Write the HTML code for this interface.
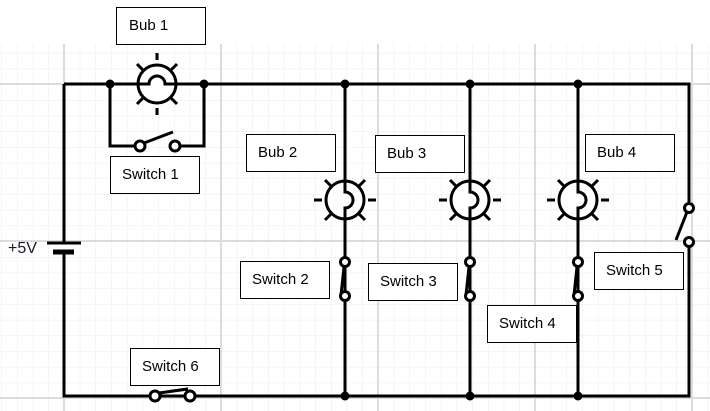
<!DOCTYPE html>
<html><head><meta charset="utf-8"><style>
html,body{margin:0;padding:0;background:#fff;}
svg{display:block;}
text{font-family:"Liberation Sans",sans-serif;font-size:15px;fill:#000;}
</style></head><body>
<svg width="710" height="411" viewBox="0 0 710 411" xmlns="http://www.w3.org/2000/svg">
<defs>
<pattern id="minor" x="1.3" y="5.8" width="15.7" height="15.7" patternUnits="userSpaceOnUse">
<path d="M0 0H15.7M0 0V15.7" stroke="#ebebeb" stroke-width="1" fill="none"/>
</pattern>
<g id="bulb" stroke="#000" stroke-width="3" fill="none">
<circle cx="0" cy="0" r="19" fill="#fff"/>
<path d="M-31 0H-23M23 0H31M-20 -20L-14 -14M20 -20L14 -14M-20 20L-14 14M20 20L14 14"/>
</g>
<g id="vbulb" stroke="#000" stroke-width="3" fill="none">
<use href="#bulb"/>
<path d="M0 -19V-8A8 8 0 0 1 0 8V19"/>
</g>
<g id="vsw" stroke="#000" stroke-width="3" fill="#fff">
<path d="M-4 33L-1 5" fill="none"/>
<circle cx="0" cy="0" r="4.5"/>
<circle cx="0" cy="34" r="4.5"/>
</g>
</defs>
<rect x="0" y="44" width="710" height="367" fill="url(#minor)"/>
<g stroke="#dcdcdc" stroke-width="2">
<path d="M64 44V411M221 44V411M378 44V411M535 44V411M692 44V411M0 84H710M0 241H710M0 398H710"/>
</g>
<g stroke="#000" stroke-width="3" fill="none">
<!-- main loop -->
<path d="M64 84H689V202M689 241V396H64V84"/>
<!-- battery gap -->
</g>
<rect x="50" y="244" width="28" height="6" fill="#fff"/>
<g stroke="#000" fill="none">
<path d="M47 243H81" stroke-width="3"/>
<path d="M53 252H74" stroke-width="5"/>
<!-- switch1 loop -->
<path d="M110 84V146H136M179 146H204V84" stroke-width="3"/>
<path d="M144 143L173 132" stroke-width="3"/>
<!-- verticals -->
<path d="M345 84V396M470 84V396M578 84V396" stroke-width="3"/>
<!-- switch5 blade -->
<path d="M687 212L676 240" stroke-width="3"/>
<!-- switch6 blade -->
<path d="M159 393L188 389" stroke-width="3"/>
</g>
<rect x="150" y="390" width="46" height="4" fill="#fff"/>
<path d="M159 393L188 389" stroke="#000" stroke-width="3"/>
<!-- switch5 white gap cover already -->
<g stroke="#000" stroke-width="3" fill="#fff">
<circle cx="140" cy="146" r="5"/><circle cx="175" cy="146" r="5"/>
<circle cx="689" cy="208" r="4.5"/><circle cx="689" cy="242" r="4.5"/>
<circle cx="155" cy="396" r="5"/><circle cx="190" cy="396" r="5"/>
</g>
<!-- bulb 1 (horizontal) -->
<g transform="translate(157,84)">
<use href="#bulb"/>
<path d="M-19 0H-8A8 8 0 0 1 8 0H19" stroke="#000" stroke-width="3" fill="none"/>
<path d="M0 -31V-24M0 24V31" stroke="#000" stroke-width="3"/>
</g>
<use href="#vbulb" transform="translate(345,200)"/>
<use href="#vbulb" transform="translate(470,200)"/>
<use href="#vbulb" transform="translate(578,200)"/>
<use href="#vsw" transform="translate(345,262)"/>
<use href="#vsw" transform="translate(470,262)"/>
<use href="#vsw" transform="translate(578,262)"/>
<!-- junction dots -->
<g fill="#000">
<circle cx="110" cy="84" r="4.5"/><circle cx="204" cy="84" r="4.5"/>
<circle cx="345" cy="84" r="4.5"/><circle cx="470" cy="84" r="4.5"/><circle cx="578" cy="84" r="4.5"/>
<circle cx="345" cy="396" r="4.5"/><circle cx="470" cy="396" r="4.5"/><circle cx="578" cy="396" r="4.5"/>
</g>
<!-- labels -->
<g fill="#fff" stroke="#000" stroke-width="1">
<rect x="116.5" y="7.5" width="89" height="37"/>
<rect x="110.5" y="156.5" width="89" height="37"/>
<rect x="246.5" y="134.5" width="89" height="37"/>
<rect x="375.5" y="135.5" width="89" height="37"/>
<rect x="585.5" y="134.5" width="89" height="37"/>
<rect x="240.5" y="261.5" width="89" height="37"/>
<rect x="368.5" y="263.5" width="89" height="37"/>
<rect x="487.5" y="305.5" width="89" height="37"/>
<rect x="594.5" y="252.5" width="89" height="37"/>
<rect x="130.5" y="348.5" width="89" height="37"/>
</g>
<text x="129" y="30">Bub 1</text>
<text x="122" y="179">Switch 1</text>
<text x="258" y="157">Bub 2</text>
<text x="387" y="158">Bub 3</text>
<text x="597" y="157">Bub 4</text>
<text x="252" y="284">Switch 2</text>
<text x="380" y="286">Switch 3</text>
<text x="499" y="328">Switch 4</text>
<text x="606" y="275">Switch 5</text>
<text x="142" y="371">Switch 6</text>
<text x="8" y="253" style="font-size:16px;fill:#1a1a2a">+5V</text>
</svg>
</body></html>
